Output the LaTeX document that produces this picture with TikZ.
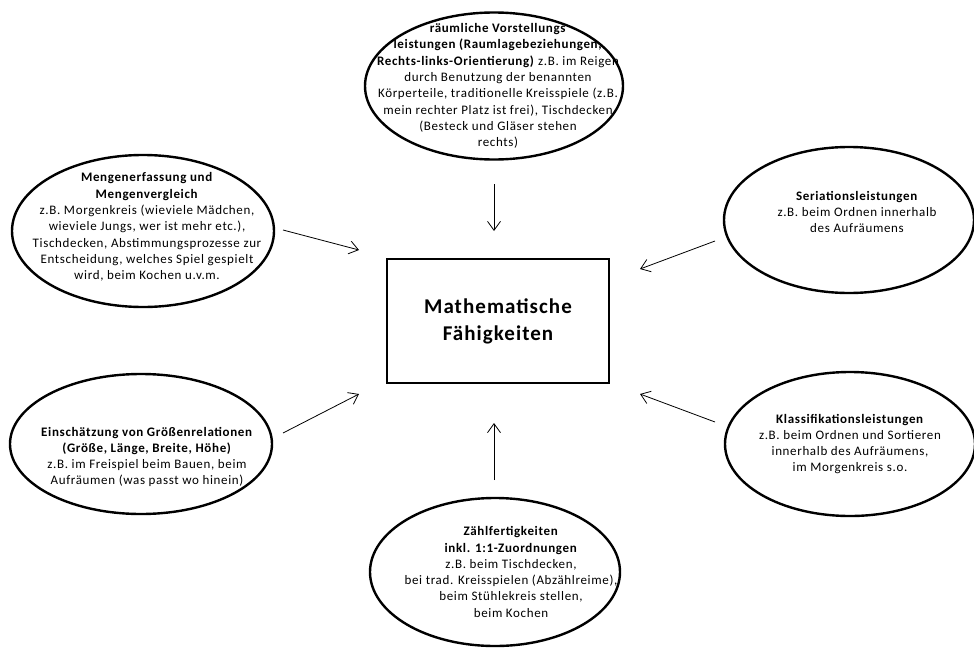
\documentclass[tikz,border=0pt]{standalone}
\usepackage{fontspec}
\setmainfont{Carlito}[LetterSpace=5]
\usetikzlibrary{shapes.geometric,arrows.meta}

\begin{document}
\begin{tikzpicture}[x=1pt,y=-1pt,
  blob/.style={ellipse,draw,line width=2.4pt},
  txt/.style={align=center,inner sep=0pt,font=\fontsize{13}{16.3}\selectfont},
  pfeil/.style={-{Straight Barb[length=9pt,width=13pt]},line width=0.8pt}]
\useasboundingbox (0,0) rectangle (974,648);

% Mitte
\path (498,321) node[rectangle,draw,line width=2.4pt,minimum width=222pt,minimum height=124pt,align=center,font=\fontsize{21}{27}\selectfont\bfseries] (mathe) {Mathematische\\Fähigkeiten};

% oben
\path (494,86) node[blob,minimum width=258pt,minimum height=147pt] (raum) {};
\path (raum.center) node[txt,xshift=4pt] (raumtxt) {\textbf{räumliche Vorstellungs}\\
\textbf{leistungen (Raumlagebeziehungen,}\\
\textbf{Rechts-links-Orientierung)} z.B. im Reigen\\
durch Benutzung der benannten\\
Körperteile, traditionelle Kreisspiele (z.B.\\
mein rechter Platz ist frei), Tischdecken\\
(Besteck und Gläser stehen\\
rechts)};

% links oben
\path (143,231) node[blob,minimum width=262pt,minimum height=152pt] (menge) {};
\path (menge.center) node[txt,xshift=4pt,yshift=4pt] (mengetxt) {\textbf{Mengenerfassung und}\\
\textbf{Mengenvergleich}\\
z.B. Morgenkreis (wieviele Mädchen,\\
wieviele Jungs, wer ist mehr etc.),\\
Tischdecken, Abstimmungsprozesse zur\\
Entscheidung, welches Spiel gespielt\\
wird, beim Kochen u.v.m.};

% rechts oben
\path (849,220) node[blob,minimum width=250pt,minimum height=146pt] (seri) {};
\path (seri.center) node[txt,xshift=8pt,yshift=8pt] (seritxt) {\textbf{Seriationsleistungen}\\
z.B. beim Ordnen innerhalb\\
des Aufräumens};

% links unten
\path (141,444) node[blob,minimum width=262pt,minimum height=140pt] (groesse) {};
\path (groesse.center) node[txt,xshift=6pt,yshift=-13pt] (groessetxt) {\textbf{Einschätzung von Größenrelationen}\\
\textbf{(Größe, Länge, Breite, Höhe)}\\
z.B. im Freispiel beim Bauen, beim\\
Aufräumen (was passt wo hinein)};

% rechts unten
\path (850,444) node[blob,minimum width=250pt,minimum height=144pt] (klass) {};
\path (klass.center) node[txt] (klasstxt) {\textbf{Klassifikationsleistungen}\\
z.B. beim Ordnen und Sortieren\\
innerhalb des Aufräumens,\\
im Morgenkreis s.o.};

% unten
\path (495,572) node[blob,minimum width=250pt,minimum height=148pt] (zaehl) {};
\path (zaehl.center) node[txt,xshift=16pt] (zaehltxt) {\textbf{Zählfertigkeiten}\\
\textbf{inkl. 1:1-Zuordnungen}\\
z.B. beim Tischdecken,\\
bei trad. Kreisspielen (Abzählreime),\\
beim Stühlekreis stellen,\\
beim Kochen};

% Pfeile
\coordinate (raumA) at (494,184);
\coordinate (raumB) at (494,231);
\draw[pfeil] (raumA) -- (raumB);
\coordinate (mengeA) at (283,230);
\coordinate (mengeB) at (359,250);
\draw[pfeil] (mengeA) -- (mengeB);
\coordinate (seriA) at (715,241);
\coordinate (seriB) at (640,269);
\draw[pfeil] (seriA) -- (seriB);
\coordinate (groesseA) at (283,433);
\coordinate (groesseB) at (359,394);
\draw[pfeil] (groesseA) -- (groesseB);
\coordinate (klassA) at (715,422);
\coordinate (klassB) at (640,394);
\draw[pfeil] (klassA) -- (klassB);
\coordinate (zaehlA) at (494,480);
\coordinate (zaehlB) at (494,423);
\draw[pfeil] (zaehlA) -- (zaehlB);
\end{tikzpicture}
\end{document}
